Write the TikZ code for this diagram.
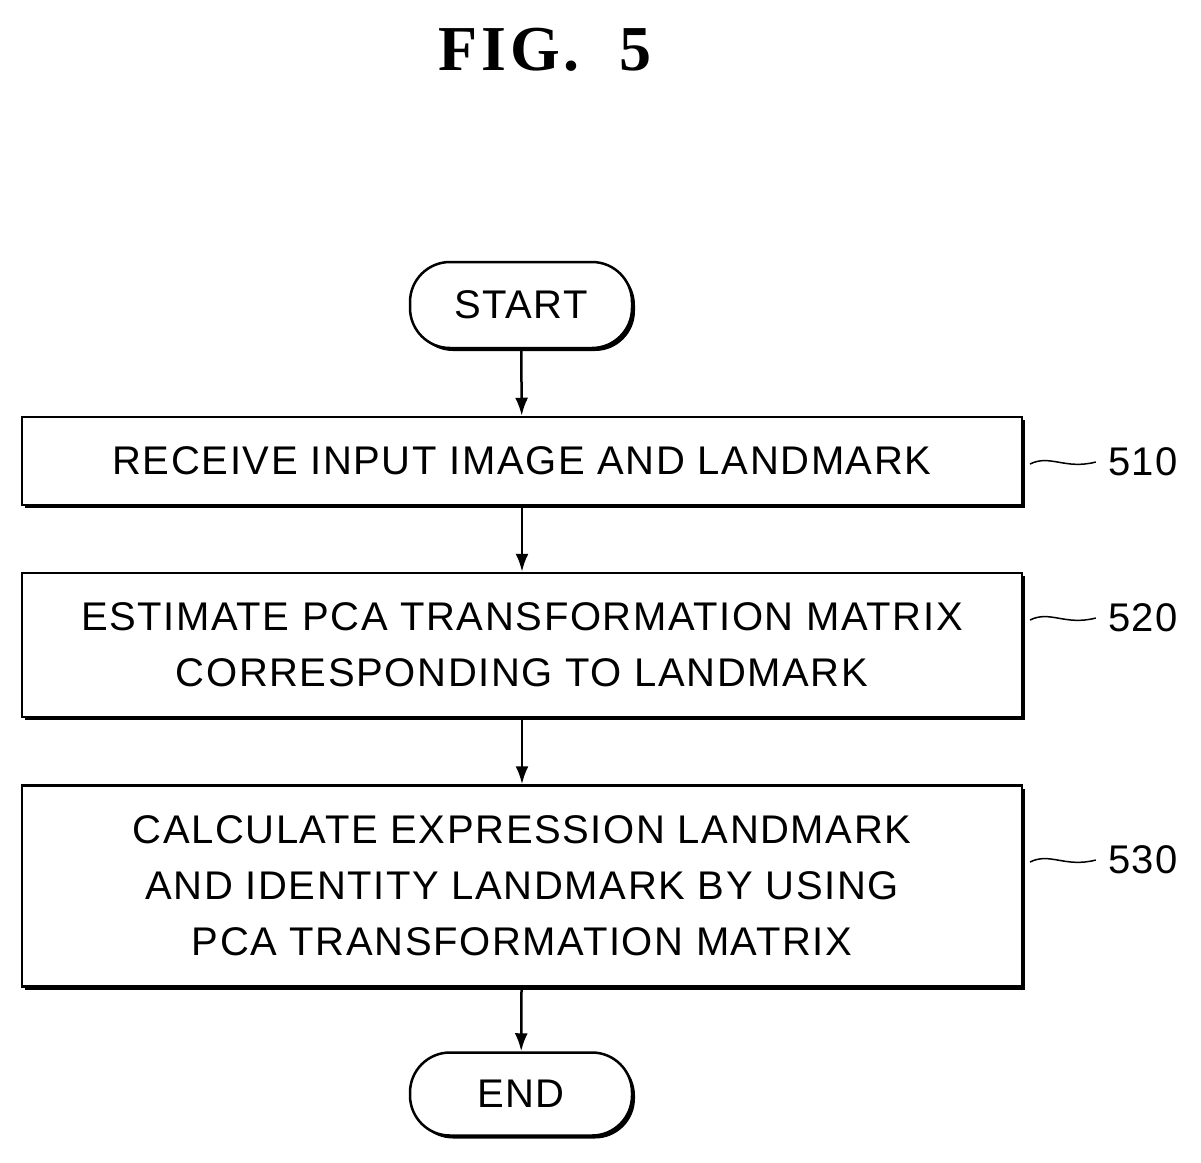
\documentclass[tikz,border=0pt]{standalone}
\usepackage{fontspec}
\setmainfont{Liberation Sans}[LetterSpace=4]
\newfontfamily\figfont{Liberation Serif}[LetterSpace=6]
\usetikzlibrary{positioning,shadows,arrows.meta}
\tikzset{
  stepbox/.style={draw, line width=2.5pt, minimum width=1000pt, align=center,
    font=\fontsize{40}{56}\selectfont, fill=white,
    drop shadow={shadow xshift=3pt, shadow yshift=-3pt, fill=black, opacity=1}},
  term/.style={draw, line width=2.5pt, rounded corners=40pt, minimum width=222pt,
    font=\fontsize{40}{48}\selectfont, fill=white,
    drop shadow={shadow xshift=3pt, shadow yshift=-3pt, fill=black, opacity=1}},
  flow/.style={-{Latex[length=18pt,width=13pt]}, line width=2.5pt},
  tag/.style={font=\fontsize{40}{48}\selectfont}
}
\begin{document}
\begin{tikzpicture}[x=1pt,y=-1pt]
  \useasboundingbox (0,0) rectangle (1201,1162);
  % title
  \node[font=\figfont\bfseries\fontsize{64}{66}\selectfont] (fig) at (545,50) {FIG.\ \ 5};
  % steps
  \node[term, minimum height=86pt] (start) at (521,305) {START};
  \node[stepbox, minimum height=88pt] (s510) at (522,461) {RECEIVE INPUT IMAGE AND LANDMARK};
  \node[stepbox, minimum height=144pt] (s520) at (522,645) {ESTIMATE PCA TRANSFORMATION MATRIX\\CORRESPONDING TO LANDMARK};
  \node[stepbox, minimum height=201pt] (s530) at (522,886) {CALCULATE EXPRESSION LANDMARK\\AND IDENTITY LANDMARK BY USING\\PCA TRANSFORMATION MATRIX};
  \node[term, minimum height=83pt] (end) at (521,1094) {END};
  % arrows
  \draw[flow] (start) -- (s510);
  \draw[flow] (s510) -- (s520);
  \draw[flow] (s520) -- (s530);
  \draw[flow] (s530) -- (end);
  % reference numbers
  \node[tag, inner xsep=12pt] (n510) at (1143,462) {510};
  \node[tag, inner xsep=12pt] (n520) at (1143,618) {520};
  \node[tag, inner xsep=12pt] (n530) at (1143,860) {530};
  \foreach \n/\y in {510/462,520/618,530/860}{
    \draw[line width=1.5pt] (1030,\y+2) .. controls (1050,\y-8) and (1065,\y+8) .. (n\n.west);
  }
\end{tikzpicture}
\end{document}
